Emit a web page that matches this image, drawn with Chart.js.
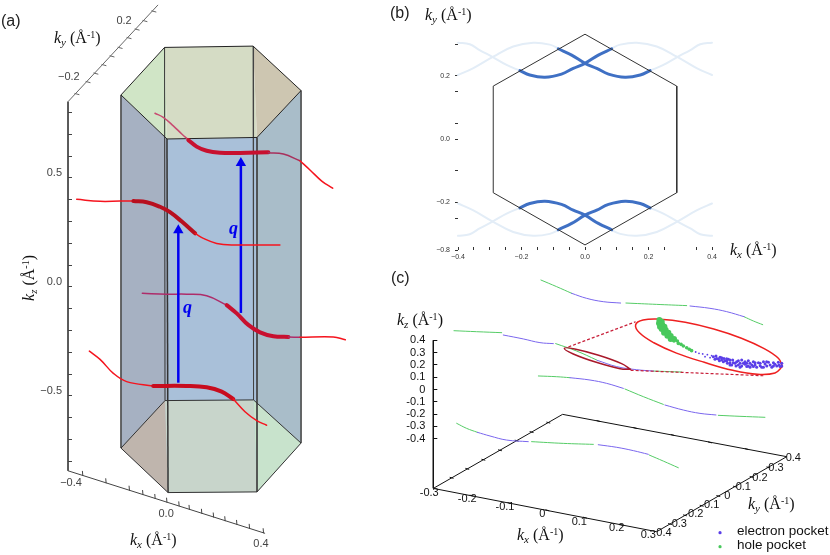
<!DOCTYPE html>
<html>
<head>
<meta charset="utf-8">
<style>
  html, body { margin: 0; padding: 0; background: #fff; }
  #page { position: relative; width: 830px; height: 555px; overflow: hidden; }
  canvas { position: absolute; }
  .t { position: absolute; white-space: nowrap; line-height: 18px; color: #222; }
  .panel { font: 16px "Liberation Sans", sans-serif; }
  .ax { font: 16px "Liberation Serif", serif; color: #111; }
  .ax i { font-size: 16px; }
  .ax sub { font-size: 11px; font-style: italic; line-height: 0; vertical-align: -3px; }
  .ax sup { font-size: 10px; line-height: 0; vertical-align: 5px; }
  .q { font: italic bold 18px "Liberation Serif", serif; color: #0000ee; }
  .leg { font: 13.5px "Liberation Sans", sans-serif; color: #111; }
</style>
</head>
<body>
<div id="page">
  <canvas id="chartA" width="370" height="555" style="left:0;top:0"></canvas>
  <canvas id="chartB" width="400" height="270" style="left:430px;top:0"></canvas>
  <canvas id="chartC" width="440" height="290" style="left:390px;top:265px"></canvas>

  <span class="t panel" style="left:1px;top:12px">(a)</span>
  <span class="t panel" style="left:390px;top:4px">(b)</span>
  <span class="t panel" style="left:391px;top:269px">(c)</span>

  <span class="t ax" style="left:54px;top:29px"><i>k<sub>y</sub></i> (Å<sup>-1</sup>)</span>
  <span class="t ax" style="left:6px;top:269px;transform:rotate(-90deg)"><i>k<sub>z</sub></i> (Å<sup>-1</sup>)</span>
  <span class="t ax" style="left:130px;top:531px"><i>k<sub>x</sub></i> (Å<sup>-1</sup>)</span>
  <span class="t q" style="left:183px;top:297px">q</span>
  <span class="t q" style="left:229px;top:218px">q</span>

  <span class="t ax" style="left:425px;top:6px"><i>k<sub>y</sub></i> (Å<sup>-1</sup>)</span>
  <span class="t ax" style="left:730px;top:241px"><i>k<sub>x</sub></i> (Å<sup>-1</sup>)</span>

  <span class="t ax" style="left:397px;top:311px"><i>k<sub>z</sub></i> (Å<sup>-1</sup>)</span>
  <span class="t ax" style="left:517px;top:526px"><i>k<sub>x</sub></i> (Å<sup>-1</sup>)</span>
  <span class="t ax" style="left:748px;top:495px"><i>k<sub>y</sub></i> (Å<sup>-1</sup>)</span>
  <span class="t leg" style="left:737px;top:523px">electron pocket</span>
  <span class="t leg" style="left:737px;top:537px">hole pocket</span>
</div>

<script src="https://cdn.jsdelivr.net/npm/chart.js@4/dist/chart.umd.min.js"></script>
<script>
// panel (a): vertical unit is kz, horizontal unit is the same length on the page
const prismU = [.243, .443, .849, 1.069, .867, .454, .243, .445, .851, 1.069, .867, .459];
const prismV = [.881, 1.099, 1.105, .901, .686, .679, -.739, -.521, -.518, -.716, -.940, -.943];

const c1BackU = [.399, .437, .483, .522, .552];
const c1BackV = [.797, .778, .739, .702, .676];
const c1ThickU = [.552, .590, .636, .697, .789, .919];
const c1ThickV = [.674, .644, .625, .616, .615, .618];
const c1DimU = [.919, .988, 1.064];
const c1DimV = [.616, .610, .579];
const c1EndU = [1.064, 1.110, 1.164, 1.214];
const c1EndV = [.579, .537, .486, .453];

const c2StartU = [.040, .147, .239, .300];
const c2StartV = [.402, .393, .394, .394];
const c2ThickU = [.300, .361, .422, .468, .522, .583];
const c2ThickV = [.394, .389, .368, .343, .300, .246];
const c2EndU = [.583, .621, .682, .758, .972];
const c2EndV = [.246, .223, .200, .193, .193];

const c3BackU = [.341, .453, .544, .636, .728];
const c3BackV = [-.029, -.033, -.033, -.040, -.083];
const c3ThickU = [.728, .774, .827, .881, .942, 1.011];
const c3ThickV = [-.083, -.121, -.174, -.208, -.226, -.229];
const c3DimU = [1.011, 1.064];
const c3DimV = [-.229, -.231];
const c3EndU = [1.064, 1.217, 1.272];
const c3EndV = [-.231, -.229, -.242];

const c4StartU = [.098, .147, .208, .269, .391];
const c4StartV = [-.294, -.332, -.396, -.434, -.454];
const c4ThickU = [.391, .544, .636, .705, .758];
const c4ThickV = [-.454, -.454, -.460, -.480, -.514];
const c4EndU = [.758, .812, .866, .911];
const c4EndV = [-.514, -.572, -.613, -.634];

const arrowLeftU = [.506, .506];
const arrowLeftV = [-.439, .26];
const arrowRightU = [.793, .793];
const arrowRightV = [-.119, .569];

const kzAxisV = [.85, -.843];
const kzTicksA = [.8, .7, .6, .5, .4, .3, .2, .1, 0, -.1, -.2, -.3, -.4, -.5, -.6, -.7, -.8];
const kzLabelsA = ["", "", "", "0.5", "", "", "", "", "0.0", "", "", "", "", "−0.5", "", "", ""];

const kyAxisU = [0, .413];
const kyAxisV = [.85, 1.294];
const kyTickU = [.041, .092, .128, .165, .202, .239, .280, .317, .353, .394];
const kyTickV = [.885, .940, .979, 1.018, 1.058, 1.097, 1.142, 1.181, 1.220, 1.264];
const kyLabelU = [.257, .004];
const kyLabelV = [1.220, .964];
const kyLabelText = ["0.2", "−0.2"];

const kxAxisU = [0, .904];
const kxAxisV = [-.843, -1.130];
const kxTickU = [.067, .174, .281, .343, .399, .453, .509, .556, .613, .667, .720, .774, .832, .896];
const kxTickV = [-.855, -.889, -.923, -.943, -.961, -.978, -.995, -1.011, -1.029, -1.046, -1.063, -1.080, -1.098, -1.118];
const kxLabelU = [.014, .450, .885];
const kxLabelV = [-.899, -1.041, -1.179];
const kxLabelText = ["−0.4", "0.0", "0.4"];

// panel (b): constant energy cut, kx and ky in 1/Å
const zoneKx = [0, .289, .289, 0, -.289, -.289, 0];
const zoneKy = [.332, .168, -.169, -.334, -.169, .168, .332];

const bandPosKx = [-.205, -.174, -.126, -.074, -.037, 0, .042, .084];
const bandNegKx = [.205, .174, .126, .074, .037, 0, -.042, -.084];
const bandPosKy = [.217, .203, .196, .206, .224, .240, .266, .286];
const bandNegKy = [-.217, -.203, -.196, -.206, -.224, -.240, -.266, -.286];

const outerAKx = [-.4, -.363, -.332, -.289, -.247, -.205];
const outerAKxR = [.4, .363, .332, .289, .247, .205];
const outerAKy = [.305, .300, .282, .259, .235, .217];
const outerAKyB = [-.305, -.300, -.282, -.259, -.235, -.217];
const outerBKx = [-.4, -.353, -.289, -.226, -.163, -.111, -.081];
const outerBKxR = [.4, .353, .289, .226, .163, .111, .081];
const outerBKy = [.203, .224, .261, .293, .305, .299, .286];
const outerBKyB = [-.203, -.224, -.261, -.293, -.305, -.299, -.286];

const kxTicksB = [-.4, -.35, -.3, -.25, -.2, -.15, -.1, -.05, 0, .05, .1, .15, .2, .25, .35, .4];
const kxLabelsB = ["−0.4", "", "", "", "−0.2", "", "", "", "0.0", "", "", "", "0.2", "", "", "0.4"];
const kyTicksB = [.3, .2, .15, .05, 0, -.1, -.2, -.25, -.35];
const kyLabelsB = ["", "0.2", "", "", "0.0", "", "−0.2", "", "−0.8"];

// panel (c): same idea as (a), vertical unit is kz
const holeU = [.875, 1.003, 1.125, null, 1.566, 1.816, 2.060, null, 2.526, 2.602, 2.678, null,
  .168, .352, .556, null, .995, 1.165, 1.328, null, 1.789, 2.019, null,
  .854, 1.003, 1.111, null, 1.558, 1.707, 1.870, null, 2.317, 2.493, 2.696, null,
  .190, .271, .358, null, .799, 1.057, 1.301, null, 1.756, 1.870, 1.992];
const holeV = [.890, .836, .782, null, .703, .692, .682, null, .592, .557, .527, null,
  .478, .470, .462, null, .373, .313, .240, null, .150, .142, null,
  .110, .104, .096, null, .004, -.058, -.121, null, -.210, -.218, -.226, null,
  -.275, -.316, -.348, null, -.424, -.438, -.446, null, -.533, -.582, -.636];
const electronU = [1.125, 1.247, 1.382, 1.523, null, 2.087, 2.249, 2.385, 2.526, null,
  .569, .732, .867, .976, null, 1.333, 1.491, 1.653, 1.789, null,
  1.111, 1.274, 1.409, 1.545, null, 1.883, 2.033, 2.168, 2.298, null,
  .358, .461, .596, .772, null, 1.341, 1.491, 1.626, 1.748];
const electronV = [.782, .741, .714, .703, null, .679, .660, .633, .592, null,
  .443, .411, .381, .373, null, .237, .186, .161, .150, null,
  .096, .077, .050, .009, null, -.126, -.167, -.194, -.207, null,
  -.348, -.378, -.411, -.424, null, -.449, -.470, -.497, -.527];

const blobHoleU = [1.838, 1.857, 1.835, 1.862, 1.843, 1.879, 1.857, 1.889, 1.876, 1.911, 1.903, 1.930, 1.930, 1.957, 1.957, 1.984, 1.992, 2.014, 2.033, 2.060, 2.081, 2.100];
const blobHoleV = [.565, .551, .538, .524, .511, .511, .492, .484, .462, .462, .438, .435, .411, .411, .394, .394, .375, .367, .354, .340, .327, .316];
const blobElectronU = [2.133, 2.160, 2.190, 2.209, 2.228, 2.250, 2.263, 2.290, 2.298, 2.326, 2.331, 2.358, 2.363, 2.391, 2.399, 2.426, 2.434, 2.461, 2.466, 2.494, 2.507, 2.521, 2.548, 2.561, 2.589, 2.602, 2.629, 2.643, 2.670, 2.684, 2.711, 2.725, 2.752, 2.765, 2.792, 2.805, 2.819, 2.412, 2.494, 2.372, 2.318, 2.439, 2.548, 2.616, 2.697, 2.778,
  2.277, 2.304, 2.344, 2.385, 2.412, 2.453, 2.480, 2.534, 2.575, 2.602, 2.657, 2.657, 2.738, 2.811, 2.507, 2.561, 2.412, 2.480, 2.534, 2.616, 2.710, 2.765, 2.833, 2.833, 2.575, 2.684, 2.385, 2.344];
const blobElectronV = [.305, .294, .289, .267, .283, .259, .275, .245, .272, .234, .262, .226, .253, .213, .245, .199, .240, .191, .226, .180, .240, .213, .186, .234, .199, .226, .180, .218, .180, .226, .191, .221, .180, .218, .191, .221, .186, .218, .213, .234, .248, .218, .213, .199, .207, .205,
  .267, .253, .240, .232, .199, .213, .199, .226, .213, .186, .213, .194, .199, .199, .191, .191, .240, .234, .205, .218, .226, .191, .213, .191, .180, .180, .251, .259];

const bigRingU = [2.838, 2.807, 2.690, 2.505, 2.280, 2.048, 1.847, 1.705, 1.645, 1.676, 1.793, 1.977, 2.203, 2.434, 2.636, 2.778, 2.838];
const bigRingV = [.187, .252, .332, .417, .492, .547, .572, .565, .526, .461, .380, .296, .221, .156, .123, .134, .187];
const smallRingU = [1.604, 1.531, 1.344, 1.150, 1.065, 1.138, 1.325, 1.519, 1.604];
const smallRingV = [.164, .210, .278, .329, .335, .289, .221, .169, .164];
const zoomUpperU = [1.098, 1.645];
const zoomUpperV = [.346, .551];
const zoomLowerU = [1.604, 2.683];
const zoomLowerV = [.156, .112];

const kzAxisCV = [.4, -.803];
const kzTicksC = [.4, .3, .2, .1, 0, -.1, -.2, -.3, -.4];
const kzLabelsC = ["0.4", "0.3", "0.2", "0.1", "0", "-0.1", "-0.2", "-0.3", "-0.4"];

const floorU = [0, 1.051, 2.873, 1.816, 0];
const floorV = [-.804, -.202, -.546, -1.156, -.804];
const floorTickU = [.149, .276, .407, .542, .678, .799, .935, .312, .618, .927, 1.233, 1.531, 1.341, 1.640, 1.946, 2.249, 2.547, 2.724, 2.588, 2.453, 2.317, 2.182, 2.046, 1.924];
const floorTickV = [-.718, -.645, -.571, -.494, -.416, -.346, -.269, -.863, -.923, -.982, -1.042, -1.102, -.256, -.313, -.370, -.430, -.484, -.633, -.711, -.790, -.866, -.945, -1.023, -1.094];

const floorLabelU = [-.033, .276, .583, .886, 1.187, 1.491, 1.748, 2.927, 2.786, 2.656, 2.520, 2.390, 2.263, 2.133, 2.0, 1.875];
const floorLabelV = [-.839, -.893, -.958, -1.015, -1.075, -1.129, -1.183, -.560, -.641, -.717, -.790, -.866, -.939, -1.015, -1.093, -1.169];
const floorLabelText = ["-0.3", "-0.2", "-0.1", "0", "0.1", "0.2", "0.3", "0.4", "0.3", "0.2", "0.1", "0", "0.1", "0.2", "0.3", "0.4"];

const legendU = [2.331, 2.331];
const legendV = [-1.164, -1.278];

function pts(xs, ys) {
    return xs.map((x, i) => ({ x: x, y: ys[i] }));
}

function line(xs, ys, color, width, extra) {
    return Object.assign({
        data: pts(xs, ys),
        showLine: true,
        borderColor: color,
        borderWidth: width,
        pointRadius: 0,
        tension: 0,
        clip: false,
    }, extra || {});
}

function curve(xs, ys, color, width) {
    return line(xs, ys, color, width, { tension: 0.4, borderCapStyle: "round" });
}

function dots(xs, ys, color, radius, extra) {
    return Object.assign({
        data: pts(xs, ys),
        showLine: false,
        backgroundColor: color,
        borderColor: color,
        borderWidth: 0,
        pointRadius: radius,
        clip: false,
    }, extra || {});
}

function marks(xs, ys, color, radius, angle) {
    return dots(xs, ys, color, radius, { pointStyle: "line", rotation: angle, borderWidth: 1 });
}

// a face or an edge of the prism from its corner numbers
function pick(arr, idx) {
    return idx.map(i => arr[i]);
}
function face(idx, color) {
    return line(pick(prismU, idx), pick(prismV, idx), "rgba(0,0,0,0)", 0, { fill: "shape", backgroundColor: color });
}
function edge(idx, color, width) {
    return line(pick(prismU, idx), pick(prismV, idx), color, width);
}

// chart.js paints high order first, so lists are written back to front
function stack(list) {
    list.forEach((d, i) => { d.order = list.length - i; });
    return list;
}

const textPlugin = {
    id: "planeText",
    afterDatasetsDraw(chart, args, opts) {
        if (!opts.text) return;
        const ctx = chart.ctx;
        ctx.save();
        ctx.font = opts.font;
        ctx.fillStyle = opts.color;
        ctx.textAlign = "center";
        ctx.textBaseline = "middle";
        opts.text.forEach((s, i) => {
            ctx.fillText(s, chart.scales.x.getPixelForValue(opts.u[i]), chart.scales.y.getPixelForValue(opts.v[i]));
        });
        ctx.restore();
    },
};
Chart.register(textPlugin);

function fixedTicks(values) {
    return scale => { scale.ticks = values.map(v => ({ value: v })); };
}
function fixedBox(prop, size) {
    return scale => {
        scale[prop] = size;
        scale.paddingTop = scale.paddingBottom = scale.paddingLeft = scale.paddingRight = 0;
    };
}

function baseOptions(scales, padding, text) {
    return {
        responsive: false,
        animation: false,
        events: [],
        layout: { padding: padding, autoPadding: false },
        plugins: { legend: { display: false }, tooltip: { enabled: false }, planeText: text || {} },
        scales: scales,
    };
}

function planeScales(xMax, yMin, yMax, axisWidth, ticks, labels, tickFont, tickColor, pad, offset) {
    return {
        x: { type: "linear", min: 0, max: xMax, display: false },
        y: {
            type: "linear", min: yMin, max: yMax,
            afterBuildTicks: fixedTicks(ticks),
            afterFit: fixedBox("width", axisWidth),
            border: { display: false },
            grid: { drawOnChartArea: false, tickLength: -4, tickColor: tickColor, tickWidth: 1 },
            ticks: {
                autoSkip: false, padding: pad, labelOffset: offset, color: tickColor,
                font: tickFont, callback: (v, i) => labels[i],
            },
        },
    };
}

new Chart(document.getElementById("chartA"), {
    type: "scatter",
    data: { datasets: stack([
        face([0, 5, 11, 6], "#a6b1c2"),
        face([5, 4, 10, 11], "#a9c0d9"),
        face([4, 3, 9, 10], "#a9bdc9"),
        face([7, 6, 11], "#bfb5ad"),
        face([7, 8, 10, 11], "#c8d5cb"),
        face([8, 9, 10], "#c8e3cc"),
        face([0, 1, 5], "#d0e5c6"),
        face([1, 2, 4, 5], "#d5dcc5"),
        face([2, 3, 4], "#cdc6b1"),
        edge([1, 7], "#333", 1),
        edge([2, 8], "#444", 1),
        edge([0, 6], "#4a4a4a", 1.6),
        edge([5, 11], "#333", 1.5),
        edge([4, 10], "#444", 1),
        edge([3, 9], "#4a4a4a", 1.6),
        edge([0, 1, 2, 3, 4, 5, 0], "#222", 1),
        edge([6, 7, 8, 9, 10, 11, 6], "#333", 1),
        line([0, 0], kzAxisV, "#444", 1),
        line(kyAxisU, kyAxisV, "#666", 1),
        line(kxAxisU, kxAxisV, "#444", 1),
        marks(kyTickU, kyTickV, "#666", 2.5, 15),
        marks(kxTickU, kxTickV, "#444", 2.5, 85),
        line(arrowRightU, arrowRightV, "#0000f0", 2.5),
        dots([arrowRightU[1]], [arrowRightV[1]], "#0000f0", 6, { pointStyle: "triangle" }),
        curve(c3BackU, c3BackV, "#ae2c6a", 1.5),
        curve(c3ThickU, c3ThickV, "#c8102f", 4),
        curve(c3DimU, c3DimV, "#ae2c6a", 1.5),
        curve(c3EndU, c3EndV, "#f5141e", 1.5),
        line(arrowLeftU, arrowLeftV, "#0000f0", 2.5),
        dots([arrowLeftU[1]], [arrowLeftV[1]], "#0000f0", 6, { pointStyle: "triangle" }),
        curve(c1BackU, c1BackV, "#c84a70", 1.5),
        curve(c1ThickU, c1ThickV, "#c8102f", 4),
        curve(c1DimU, c1DimV, "#a8305c", 1.5),
        curve(c1EndU, c1EndV, "#f5141e", 1.5),
        curve(c2StartU, c2StartV, "#f5141e", 1.5),
        curve(c2ThickU, c2ThickV, "#b80f1e", 4),
        curve(c2EndU, c2EndV, "#f5141e", 1.5),
        curve(c4StartU, c4StartV, "#f5141e", 1.5),
        curve(c4ThickU, c4ThickV, "#c80c1e", 4),
        curve(c4EndU, c4EndV, "#f5141e", 1.5),
    ]) },
    options: baseOptions(
        planeScales(1.3853, -1.2294, 1.3165, 68, kzTicksA, kzLabelsA,
            { family: "Liberation Sans", size: 11 }, "#444", 10, -5),
        0,
        {
            text: kyLabelText.concat(kxLabelText),
            u: kyLabelU.concat(kxLabelU),
            v: kyLabelV.concat(kxLabelV),
            font: '11px "Liberation Sans"',
            color: "#444",
        }
    ),
});

new Chart(document.getElementById("chartB"), {
    type: "scatter",
    data: { datasets: stack([
        curve(outerAKx, outerAKy, "#e3edf7", 2),
        curve(outerBKx, outerBKy, "#e3edf7", 2),
        curve(outerAKxR, outerAKy, "#e3edf7", 2),
        curve(outerBKxR, outerBKy, "#e3edf7", 2),
        curve(outerAKx, outerAKyB, "#e3edf7", 2),
        curve(outerBKx, outerBKyB, "#e3edf7", 2),
        curve(outerAKxR, outerAKyB, "#e3edf7", 2),
        curve(outerBKxR, outerBKyB, "#e3edf7", 2),
        curve(bandPosKx, bandPosKy, "#3f70c4", 3),
        curve(bandNegKx, bandPosKy, "#3f70c4", 3),
        curve(bandPosKx, bandNegKy, "#3f70c4", 3),
        curve(bandNegKx, bandNegKy, "#3f70c4", 3),
        line(zoneKx, zoneKy, "#333", 1),
    ]) },
    options: baseOptions({
        x: {
            type: "linear", min: -.4, max: .4,
            afterBuildTicks: fixedTicks(kxTicksB),
            afterFit: fixedBox("height", 20),
            border: { display: false },
            grid: { drawOnChartArea: false, tickLength: -3, tickColor: "#333" },
            ticks: {
                autoSkip: false, maxRotation: 0, padding: 6, color: "#333",
                font: { family: "Liberation Sans", size: 7 }, callback: (v, i) => kxLabelsB[i],
            },
        },
        y: {
            type: "linear", min: -.35, max: .35,
            afterBuildTicks: fixedTicks(kyTicksB),
            afterFit: fixedBox("width", 28),
            border: { display: false },
            grid: { drawOnChartArea: false, tickLength: 3, tickColor: "#333" },
            ticks: {
                autoSkip: false, padding: 5, color: "#333",
                font: { family: "Liberation Sans", size: 7 }, callback: (v, i) => kyLabelsB[i],
            },
        },
    }, { top: 28.5, right: 118, left: 0, bottom: 0 }),
});

new Chart(document.getElementById("chartC"), {
    type: "scatter",
    data: { datasets: stack([
        line([0, 0], kzAxisCV, "#111", 1),
        line(floorU, floorV, "#111", 1),
        marks(floorTickU, floorTickV, "#111", 2, 15),
        curve(holeU, holeV, "#55cc66", 1),
        curve(electronU, electronV, "#7a66ee", 1),
        line(zoomUpperU, zoomUpperV, "#c8203a", 1.2, { borderDash: [3, 2] }),
        line(zoomLowerU, zoomLowerV, "#c8203a", 1.2, { borderDash: [3, 2] }),
        curve(smallRingU, smallRingV, "#a8182a", 1.5),
        curve(bigRingU, bigRingV, "#ee2020", 1.5),
        dots(blobHoleU, blobHoleV, "#48c85c", 2.6, { pointRadius: c => (c.dataIndex < 14 ? 3 : 1.8) }),
        dots(blobElectronU, blobElectronV, "#5a3ee8", 1.4, { pointRadius: c => (c.dataIndex < 7 ? 0.9 : 1.5) }),
        dots([legendU[0]], [legendV[0]], "#5a3ee8", 1.6),
        dots([legendU[1]], [legendV[1]], "#48c85c", 1.6),
    ]) },
    options: baseOptions(
        planeScales(3.225, -1.3455, 1.0122, 43.3, kzTicksC, kzLabelsC,
            { family: "Liberation Sans", size: 11 }, "#111", 12, 0),
        0,
        {
            text: floorLabelText,
            u: floorLabelU,
            v: floorLabelV,
            font: '11px "Liberation Sans"',
            color: "#111",
        }
    ),
});
</script>
</body>
</html>
